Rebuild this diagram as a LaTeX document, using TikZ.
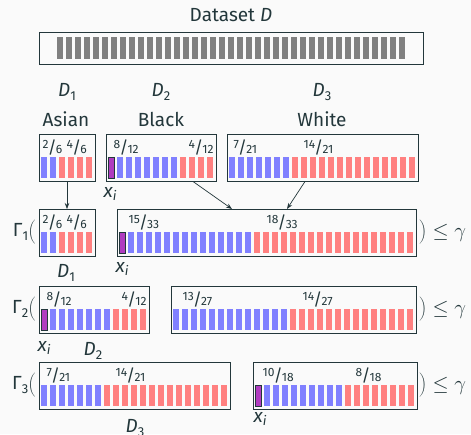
\documentclass[tikz,border=0pt]{standalone}
\usepackage{fontspec}
\setmainfont{Fira Sans}
\usetikzlibrary{arrows.meta}
\definecolor{bg}{HTML}{FAFAFA}
\definecolor{fg}{HTML}{23373B}
\definecolor{bb}{HTML}{8080FF}
\definecolor{rb}{HTML}{FF8080}
\definecolor{pb}{HTML}{B03CC0}
\definecolor{gb}{HTML}{808080}
\newcommand\fr[2]{{\fontsize{12}{12}\selectfont\raisebox{5pt}{#1}}\kern-0.8pt{\fontsize{17}{17}\selectfont/}\kern-0.8pt{\fontsize{12}{12}\selectfont #2}}
\newcommand\sbs[1]{\raisebox{-3.5pt}{\fontsize{13}{13}\selectfont #1}}
\newcommand\grp[6]{%
  \pgfmathtruncatemacro\ntot{#4+#5+#6}%
  \pgfmathsetmacro\bw{\ntot*9+2}%
  \node[gbox, minimum width=\bw pt, anchor=north west] (#1) at (#2,#3) {};%
  \foreach \k in {1,...,#5} {\fill[bb] (#2+2+#4*9+\k*9-9, #3+23) rectangle ++(6,21);}%
  \foreach \k in {1,...,#6} {\fill[rb] (#2+2+#4*9+#5*9+\k*9-9, #3+23) rectangle ++(6,21);}%
  \ifnum#4>0 \filldraw[fill=pb, draw=fg, line width=0.7pt] (#2+2,#3+23) rectangle ++(6,21);\fi
}
\begin{document}
\begin{tikzpicture}[x=1pt,y=-1pt,
  gbox/.style={draw=fg, line width=0.8pt, minimum height=47.5pt, inner sep=0pt, outer sep=0pt},
  lab/.style={anchor=base west, inner sep=0.5pt, text=fg, fill=bg, fill opacity=0.6, text opacity=1},
  txt/.style={text=fg, font=\fontsize{19}{22}\selectfont, inner sep=0pt},
  rel/.style={text=fg, font=\fontsize{22}{24}\selectfont, inner sep=0pt},
  arr/.style={draw=fg, line width=0.7pt, -{Stealth[length=6pt,width=4.5pt]}}]
\fill[bg] (0,0) rectangle (471,434);
\useasboundingbox (0,0) rectangle (471,434);
% dataset
\node[txt] (title) at (231,15) {Dataset \textit{D}};
\node[draw=fg, line width=0.8pt, minimum width=384pt, minimum height=32.5pt, inner sep=0pt, anchor=north west] (data) at (39,31.5) {};
\foreach \k in {1,...,39} {\fill[gb] (56.5+\k*9-9,36.5) rectangle ++(6,22);}
\node[txt] (d1) at (67,92) {\textit{D}\sbs{1}};
\node[txt] (d2) at (161,92) {\textit{D}\sbs{2}};
\node[txt] (d3) at (322,92) {\textit{D}\sbs{3}};
\node[txt] (asian) at (66,119) {Asian};
\node[txt] (black) at (161,119) {Black};
\node[txt] (white) at (322,119) {White};
% row 1
\grp{asian1}{39}{134}{0}{2}{4}
\grp{black1}{106}{134}{1}{7}{4}
\grp{white1}{227}{134}{0}{7}{14}
\node[lab] (la1) at (42,153) {\fr{2}{6}};
\node[lab] (la2) at (66,153) {\fr{4}{6}};
\node[lab] (lb1) at (113,153) {\fr{8}{12}};
\node[lab] (lb2) at (188,153) {\fr{4}{12}};
\node[lab] (lw1) at (233,153) {\fr{7}{21}};
\node[lab] (lw2) at (303,153) {\fr{14}{21}};
\node[txt] (xi1) at (110,194) {\textit{x}\sbs{\textit{i}}};
% Gamma 1
\grp{asianG}{39}{209}{0}{2}{4}
\grp{big1}{117}{209}{1}{14}{18}
\node[lab] (lg1) at (42,228) {\fr{2}{6}};
\node[lab] (lg2) at (66,228) {\fr{4}{6}};
\node[lab] (lg3) at (128,228) {\fr{15}{33}};
\node[lab] (lg4) at (266,228) {\fr{18}{33}};
\node[txt] (d1b) at (66,273) {\textit{D}\sbs{1}};
\node[txt] (xi2) at (122,269) {\textit{x}\sbs{\textit{i}}};
\node[txt, anchor=east] (gam1) at (37,232.5) {Γ\sbs{1}$\left(\vcenter{\hbox{\rule{0pt}{26pt}}}\right.$};
\node[rel, anchor=west] (le1) at (418,232.5) {$\left.\vcenter{\hbox{\rule{0pt}{26pt}}}\right)\leq\gamma$};
% Gamma 2
\grp{g2a}{39}{286}{1}{7}{4}
\grp{g2b}{171}{286}{0}{13}{14}
\node[lab] (lh1) at (46,305) {\fr{8}{12}};
\node[lab] (lh2) at (121,305) {\fr{4}{12}};
\node[lab] (lh3) at (182,305) {\fr{13}{27}};
\node[lab] (lh4) at (302,305) {\fr{14}{27}};
\node[txt] (xi3) at (44,348) {\textit{x}\sbs{\textit{i}}};
\node[txt] (d2b) at (93,351) {\textit{D}\sbs{2}};
\node[txt, anchor=east] (gam2) at (37,309.5) {Γ\sbs{2}$\left(\vcenter{\hbox{\rule{0pt}{26pt}}}\right.$};
\node[rel, anchor=west] (le2) at (418,309.5) {$\left.\vcenter{\hbox{\rule{0pt}{26pt}}}\right)\leq\gamma$};
% Gamma 3
\grp{g3a}{39}{362}{0}{7}{14}
\grp{g3b}{253}{362}{1}{9}{8}
\node[lab] (lk1) at (46,381) {\fr{7}{21}};
\node[lab] (lk2) at (115,381) {\fr{14}{21}};
\node[lab] (lk3) at (262,381) {\fr{10}{18}};
\node[lab] (lk4) at (355,381) {\fr{8}{18}};
\node[txt] (d3b) at (135,428) {\textit{D}\sbs{3}};
\node[txt] (xi4) at (260,419) {\textit{x}\sbs{\textit{i}}};
\node[txt, anchor=east] (gam3) at (37,385.5) {Γ\sbs{3}$\left(\vcenter{\hbox{\rule{0pt}{26pt}}}\right.$};
\node[rel, anchor=west] (le3) at (418,385.5) {$\left.\vcenter{\hbox{\rule{0pt}{26pt}}}\right)\leq\gamma$};
% arrows
\draw[arr] (asian1.south) -- (asianG.north);
\draw[arr] ([xshift=87pt]black1.south west) -- ([xshift=115pt]big1.north west);
\draw[arr] ([xshift=78pt]white1.south west) -- ([xshift=170pt]big1.north west);
\end{tikzpicture}
\end{document}
